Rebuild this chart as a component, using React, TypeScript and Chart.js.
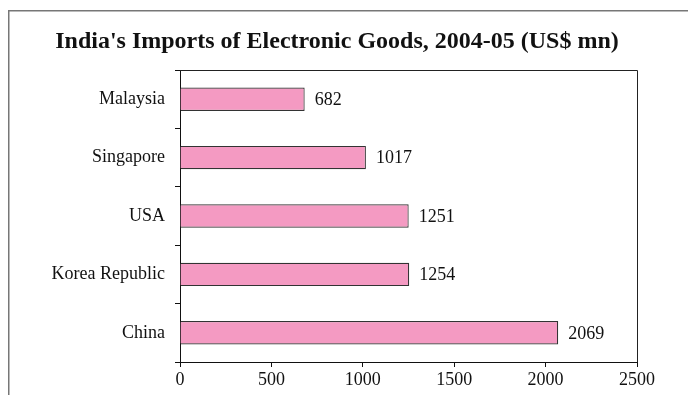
import React, { useEffect, useRef } from "react";
import { Chart, registerables } from "chart.js";

Chart.register(...registerables);

const title = "India's Imports of Electronic Goods, 2004-05 (US$ mn)";
const countries = ["Malaysia", "Singapore", "USA", "Korea Republic", "China"];
const imports = [682, 1017, 1251, 1254, 2069];
const xTicks = [0, 500, 1000, 1500, 2000, 2500];

const FONT = "'Liberation Serif', 'Times New Roman', serif";

export default function App() {
  const ref = useRef<HTMLCanvasElement | null>(null);

  useEffect(() => {
    if (!ref.current) return;
    const framePlugin = {
      id: "framePlugin",
      beforeDraw(chart: any) {
        const { ctx } = chart;
        ctx.save();
        ctx.strokeStyle = "#777";
        ctx.lineWidth = 1.5;
        ctx.beginPath();
        ctx.moveTo(8.75, 395);
        ctx.lineTo(8.75, 10.75);
        ctx.lineTo(688, 10.75);
        ctx.stroke();
        ctx.restore();
      },
      afterDraw(chart: any) {
        const { ctx, chartArea } = chart;
        ctx.save();
        ctx.strokeStyle = "#222";
        ctx.lineWidth = 1;
        ctx.beginPath();
        ctx.moveTo(chartArea.left, Math.round(chartArea.top) + 0.5);
        ctx.lineTo(Math.round(chartArea.right) + 0.5, Math.round(chartArea.top) + 0.5);
        ctx.lineTo(Math.round(chartArea.right) + 0.5, chartArea.bottom);
        ctx.stroke();
        // title
        ctx.fillStyle = "#111";
        ctx.font = `bold 24px ${FONT}`;
        ctx.textAlign = "center";
        ctx.textBaseline = "middle";
        ctx.fillText(title, 337, 42);
        // value labels
        const meta = chart.getDatasetMeta(0);
        ctx.font = `18px ${FONT}`;
        ctx.textAlign = "left";
        ctx.fillStyle = "#111";
        meta.data.forEach((bar: any, i: number) => {
          ctx.fillText(String(imports[i]), bar.x + 10, bar.y + 1);
        });
        ctx.restore();
      },
    };

    const chart = new Chart(ref.current, {
      type: "bar",
      data: {
        labels: countries,
        datasets: [
          {
            data: imports,
            backgroundColor: "#F49AC2",
            borderColor: "#333333",
            borderWidth: 1.2,
            barPercentage: 0.4,
            categoryPercentage: 1.0,
          },
        ],
      },
      options: {
        indexAxis: "y",
        animation: false,
        responsive: false,
        maintainAspectRatio: false,
        layout: { padding: { top: 70, right: 51, bottom: 0, left: 0 } },
        plugins: {
          legend: { display: false },
          tooltip: { enabled: false },
          title: { display: false },
        },
        scales: {
          x: {
            min: 0,
            max: 2500,
            afterBuildTicks(scale: any) {
              scale.ticks = xTicks.map((v) => ({ value: v }));
            },
            afterFit(scale: any) {
              scale.height = 33;
            },
            grid: {
              drawOnChartArea: false,
              drawTicks: true,
              tickLength: 5,
              color: "#111",
            },
            border: { display: true, color: "#111", width: 1 },
            ticks: {
              color: "#111",
              font: { family: FONT, size: 18 },
              padding: 2,
              maxRotation: 0,
              callback: (v: any) => String(v),
            },
          },
          y: {
            afterFit(scale: any) {
              scale.width = 180;
            },
            grid: {
              drawOnChartArea: false,
              drawTicks: true,
              tickLength: 5,
              offset: true,
              color: "#111",
            },
            border: { display: true, color: "#111", width: 1 },
            ticks: {
              color: "#111",
              font: { family: FONT, size: 18 },
              padding: 10,
            },
          },
        },
      },
      plugins: [framePlugin],
    });
    return () => chart.destroy();
  }, []);

  return (
    <div
      style={{
        position: "fixed",
        left: 0,
        top: 0,
        width: 688,
        height: 395,
        overflow: "hidden",
        background: "#fff",
      }}
    >
      <canvas
        ref={ref}
        width={688}
        height={395}
        style={{ position: "absolute", left: 0, top: 0, width: 688, height: 395 }}
      />
    </div>
  );
}
